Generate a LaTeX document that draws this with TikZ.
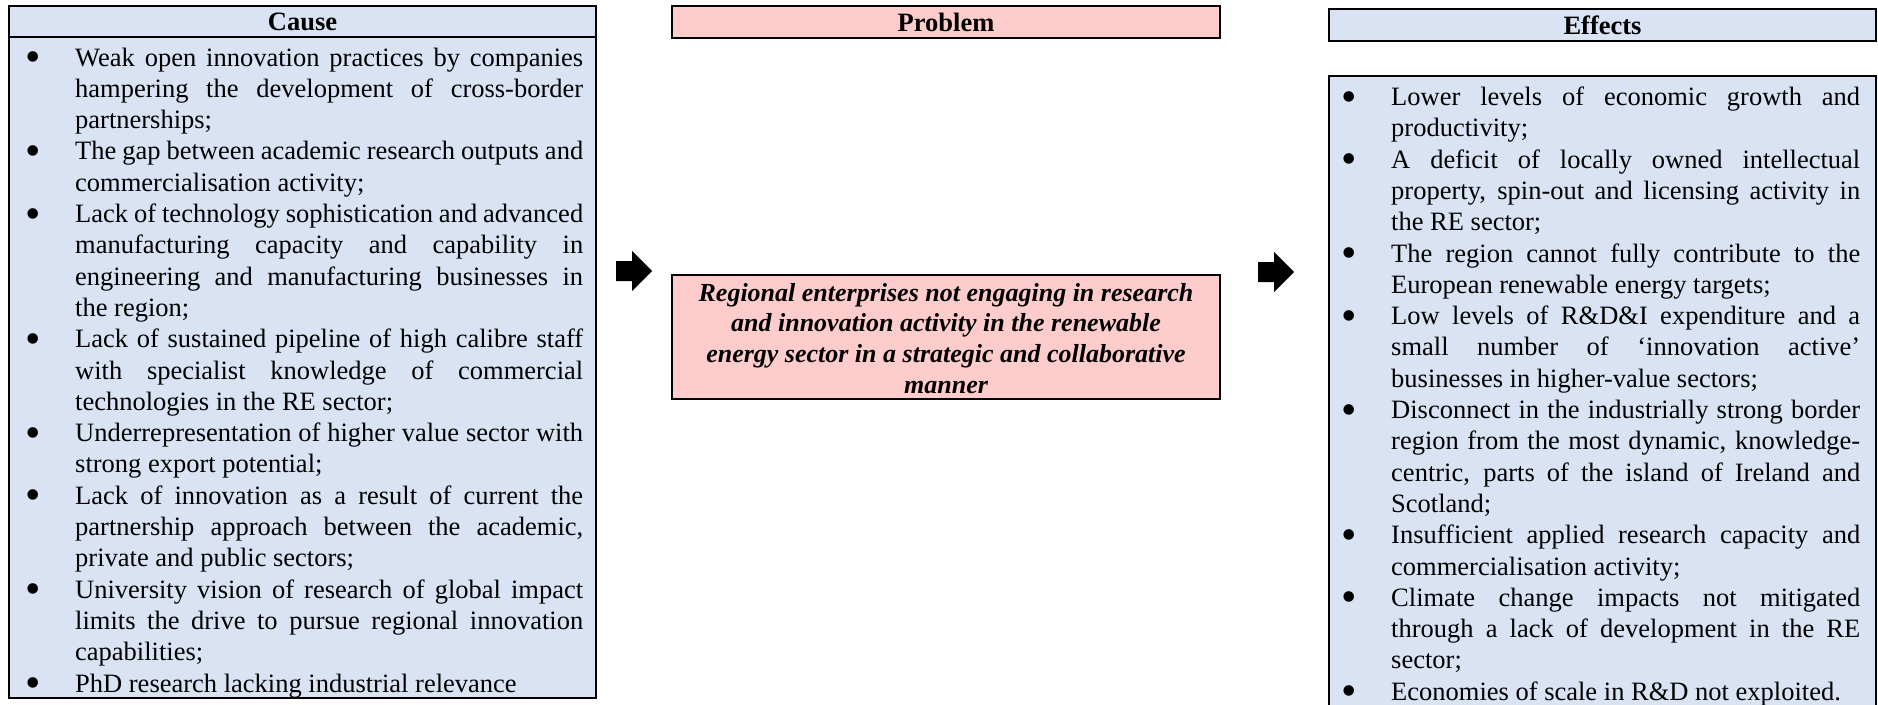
\documentclass[tikz,border=0pt]{standalone}
\usepackage{fontspec}
\setmainfont{Liberation Serif}
\definecolor{boxblue}{RGB}{218,227,243}
\definecolor{boxpink}{RGB}{255,204,204}
\newcommand{\bodysize}{\fontsize{26.5pt}{31.3pt}\selectfont}
\newcommand{\bigbullet}{\raisebox{-5.5pt}{\fontsize{44pt}{44pt}\selectfont\textbullet}}
\newcommand{\itemlist}[2]{\vtop{\hsize=#1\parindent=0pt\parskip=0pt\hyphenpenalty=10000\tolerance=10000\hbadness=10000\bodysize #2}}
\newcommand{\bul}[1]{\noindent\hangindent=55pt\hangafter=1\hbox to 55pt{\hskip 5.5pt\bigbullet\hss}#1\par}
\tikzset{
  boxline/.style={draw=black, line width=2pt, inner sep=0pt},
  bluebox/.style={boxline, fill=boxblue},
  pinkbox/.style={boxline, fill=boxpink},
  hdrtext/.style={font=\bodysize\bfseries},
  listtext/.style={anchor=base west, inner sep=0pt},
  blockarrow/.pic={\fill[black] (0,-10) -- (16,-10) -- (16,-20) -- (36,0) -- (16,20) -- (16,10) -- (0,10) -- cycle;}
}
\begin{document}
\begin{tikzpicture}[x=1pt, y=-1pt]
\useasboundingbox (0,0) rectangle (1878,704);
\clip (0,0) rectangle (1878,704);
% Cause column
\node[bluebox, minimum width=587pt, minimum height=661pt] (causeB) at (302.5,367.5) {};
\node[bluebox, hdrtext, minimum width=587pt, minimum height=31pt] (causeH) at (302.5,21.5) {Cause};
\node[listtext] (causeT) at (20,66) {\itemlist{563pt}{%
\bul{Weak open innovation practices by companies\linebreak hampering the development of cross-border\linebreak partnerships;}
\bul{The gap between academic research outputs and\linebreak commercialisation activity;}
\bul{Lack of technology sophistication and advanced\linebreak manufacturing capacity and capability in\linebreak engineering and manufacturing businesses in\linebreak the region;}
\bul{Lack of sustained pipeline of high calibre staff\linebreak with specialist knowledge of commercial\linebreak technologies in the RE sector;}
\bul{Underrepresentation of higher value sector with\linebreak strong export potential;}
\bul{Lack of innovation as a result of current the\linebreak partnership approach between the academic,\linebreak private and public sectors;}
\bul{University vision of research of global impact\linebreak limits the drive to pursue regional innovation\linebreak capabilities;}
\bul{PhD research lacking industrial relevance}}};
% Problem column
\node[pinkbox, hdrtext, minimum width=548pt, minimum height=32pt] (probH) at (946,22) {Problem};
\node[pinkbox, minimum width=548pt, minimum height=124pt] (probB) at (946,337) {};
\node[anchor=base, inner sep=0pt] (probT) at (946,301) {\vtop{\hsize=530pt\parindent=0pt\centering\fontsize{26pt}{30.8pt}\selectfont\bfseries\itshape
Regional enterprises not engaging in research\\
and innovation activity in the renewable\\
energy sector in a strategic and collaborative\\
manner\par}};
% Effects column
\node[bluebox, hdrtext, minimum width=547pt, minimum height=32pt] (effH) at (1602.5,25) {Effects};
\node[bluebox, minimum width=547pt, minimum height=640pt] (effB) at (1602.5,396) {};
\node[listtext] (effT) at (1336,105.5) {\itemlist{524pt}{%
\bul{Lower levels of economic growth and\linebreak productivity;}
\bul{A deficit of locally owned intellectual\linebreak property, spin-out and licensing activity in\linebreak the RE sector;}
\bul{The region cannot fully contribute to the\linebreak European renewable energy targets;}
\bul{Low levels of R\&D\&I expenditure and a\linebreak small number of ‘innovation active’\linebreak businesses in higher-value sectors;}
\bul{Disconnect in the industrially strong border\linebreak region from the most dynamic, knowledge-\linebreak centric, parts of the island of Ireland and\linebreak Scotland;}
\bul{Insufficient applied research capacity and\linebreak commercialisation activity;}
\bul{Climate change impacts not mitigated\linebreak through a lack of development in the RE\linebreak sector;}
\bul{Economies of scale in R\&D not exploited.}}};
% Block arrows
\pic (arrL) at (616,271) {blockarrow};
\pic (arrR) at (1258,272) {blockarrow};
\end{tikzpicture}
\end{document}
